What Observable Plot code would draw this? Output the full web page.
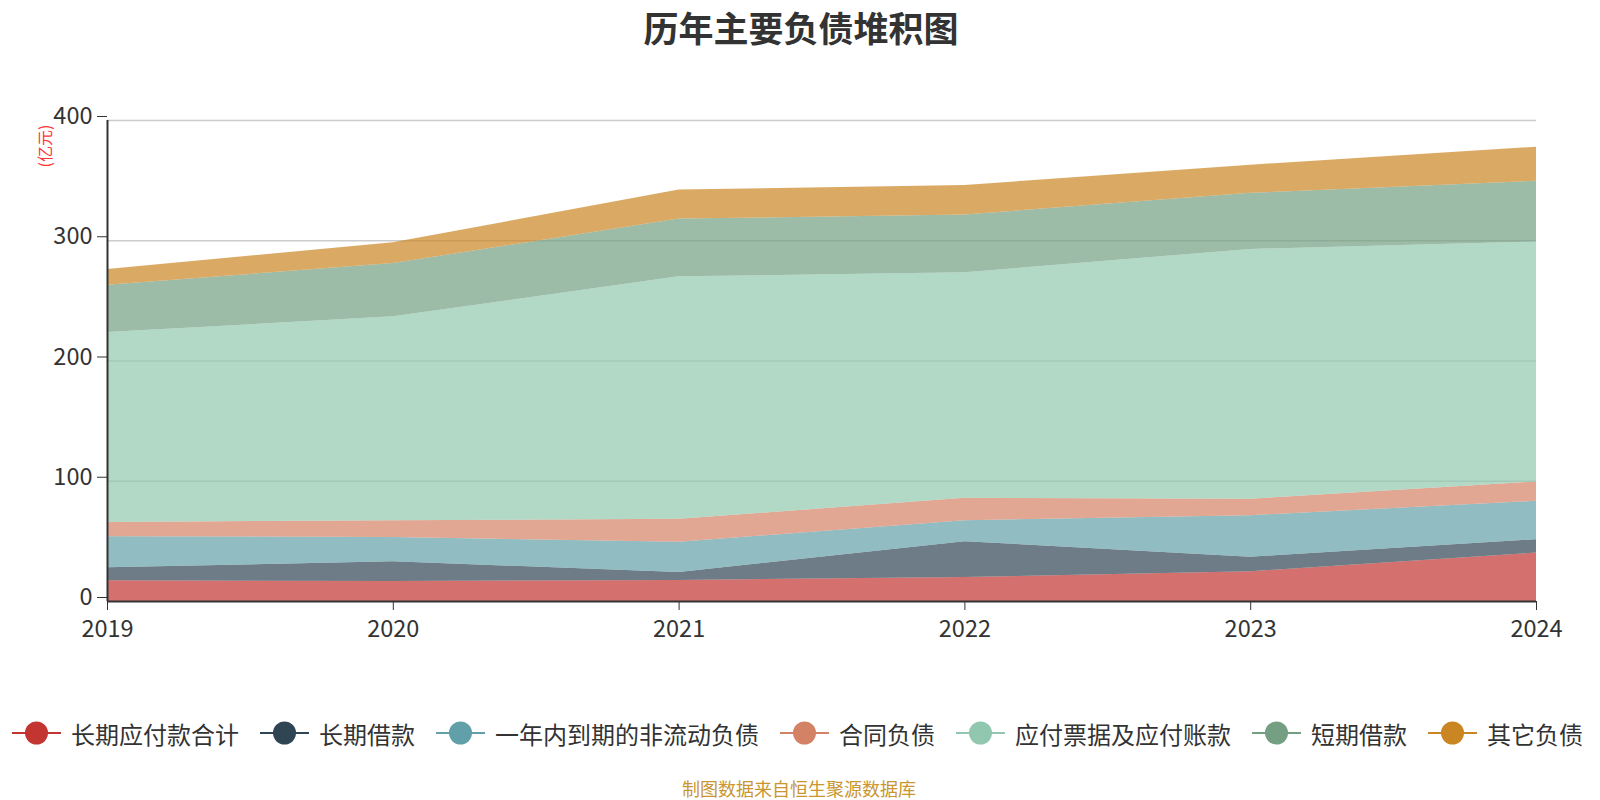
<!DOCTYPE html>
<html><head><meta charset="utf-8">
<script src="https://cdn.jsdelivr.net/npm/d3@7"></script>
<script src="https://cdn.jsdelivr.net/npm/@observablehq/plot@0.6"></script>
<style>
body{margin:0;background:#fff;font-family:"Noto Sans CJK SC","Noto Sans",sans-serif;}
#wrap{position:relative;width:1600px;height:800px;overflow:hidden;background:#fff;}
#title{position:absolute;top:1px;left:0;width:1602px;text-align:center;font-size:35px;line-height:52px;font-weight:bold;color:#333;}
#chart{position:absolute;top:0;left:0;}
#unit{position:absolute;left:44px;top:146px;transform:translate(-50%,-50%) rotate(-90deg);color:#f33;font-size:16px;white-space:nowrap;line-height:16px;}
#legend{position:absolute;left:12px;top:715px;height:36px;display:flex;align-items:center;white-space:nowrap;}
.item{display:flex;align-items:center;margin-right:21px;font-size:24px;color:#333;}
.item svg{margin-right:10px;}
#caption{position:absolute;left:0;width:1598px;top:776px;text-align:center;font-size:18px;line-height:24px;color:#c9962f;}
</style></head>
<body>
<div id="wrap">
  <div id="chart"></div>
  <div id="title">历年主要负债堆积图</div>
  <div id="unit">(亿元)</div>
  <div id="legend"></div>
  <div id="caption">制图数据来自恒生聚源数据库</div>
</div>
<script>
const years = [2019, 2020, 2021, 2022, 2023, 2024];
const seriesNames = ["长期应付款合计", "长期借款", "一年内到期的非流动负债", "合同负债", "应付票据及应付账款", "短期借款", "其它负债"];
const colors = ["#c23531", "#2f4554", "#61a0a8", "#d48265", "#91c7ae", "#749f83", "#ca8622"];
const longTermPayables  = [17.2, 16.7, 17.5, 20.0, 24.7, 40.3];
const longTermLoans     = [10.8, 16.3, 6.7, 29.7, 12.2, 11.1];
const currentNonCurrent = [25.9, 20.3, 25.0, 17.5, 34.5, 31.9];
const contractLiab      = [11.9, 13.9, 19.1, 18.6, 13.6, 16.1];
const payables          = [157.8, 169.5, 201.7, 187.5, 207.8, 199.5];
const shortLoans        = [39.4, 44.3, 48.0, 48.1, 46.6, 50.5];
const others            = [13.1, 17.3, 24.2, 24.6, 23.4, 28.4];
const yTicks = [0, 100, 200, 300, 400];

const seriesValues = [longTermPayables, longTermLoans, currentNonCurrent, contractLiab, payables, shortLoans, others];
const data = [];
seriesNames.forEach((name, i) => {
  years.forEach((yr, j) => data.push({year: yr, series: name, value: seriesValues[i][j]}));
});

const chart = Plot.plot({
  width: 1600,
  height: 662,
  marginTop: 120,
  marginBottom: 61,
  marginLeft: 107,
  marginRight: 64,
  style: {fontFamily: '"Noto Sans CJK SC","Noto Sans",sans-serif', background: "transparent"},
  x: {domain: [2019, 2024]},
  y: {domain: [0, 400]},
  color: {domain: seriesNames, range: colors},
  marks: [
    Plot.gridY(yTicks.slice(1), {stroke: "#ccc", strokeOpacity: 1, strokeWidth: 1.5}),
    Plot.areaY(data, {x: "year", y: "value", z: "series", fill: "series", fillOpacity: 0.7, order: seriesNames}),
    Plot.ruleX([2019], {y1: 0, y2: 400, stroke: "#333", strokeWidth: 2}),
    Plot.ruleY([0], {stroke: "#333", strokeWidth: 2}),
    Plot.axisY({ticks: yTicks, tickSize: 10, tickPadding: 5, fontSize: 23.5, color: "#333", label: null, dy: -4}),
    Plot.axisX({ticks: years, tickFormat: d => String(d), tickSize: 9, tickPadding: 10, fontSize: 23.5, color: "#333", label: null})
  ]
});
document.getElementById("chart").appendChild(chart);

const legend = document.getElementById("legend");
seriesNames.forEach((name, i) => {
  const item = document.createElement("div");
  item.className = "item";
  item.innerHTML = `<svg width="49" height="24"><line x1="0" y1="12" x2="49" y2="12" stroke="${colors[i]}" stroke-width="2"/><circle cx="24.5" cy="12" r="11.5" fill="${colors[i]}"/></svg><span>${name}</span>`;
  legend.appendChild(item);
});
</script>
</body></html>
